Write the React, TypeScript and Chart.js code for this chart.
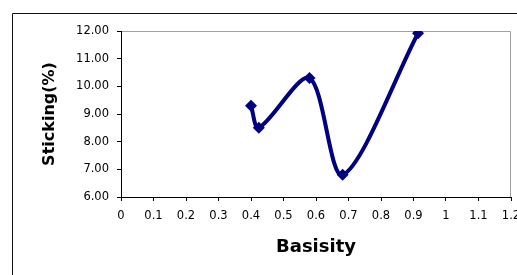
import React, { useEffect, useRef } from "react";
import { Chart, registerables } from "chart.js";

Chart.register(...registerables);

const basisity = [0.4, 0.424, 0.58, 0.682, 0.914];
const sticking = [9.3, 8.5, 10.3, 6.8, 11.92];
const xMin = 0;
const xMax = 1.2;
const xStep = 0.1;
const yMin = 6;
const yMax = 12;
const yStep = 1;
const xTitle = "Basisity";
const yTitle = "Sticking(%)";

const framePlugin = {
  id: "frame",
  beforeDraw(chart: any) {
    const { ctx, chartArea } = chart;
    const { left, top, right, bottom } = chartArea;
    ctx.save();
    ctx.fillStyle = "#ffffff";
    ctx.fillRect(0, 0, chart.width, chart.height);
    ctx.strokeStyle = "#111111";
    ctx.lineWidth = 1;
    ctx.beginPath();
    ctx.moveTo(12.5, chart.height);
    ctx.lineTo(12.5, 13.5);
    ctx.lineTo(chart.width, 13.5);
    ctx.stroke();
    ctx.strokeStyle = "#a0a0a0";
    ctx.beginPath();
    ctx.moveTo(left, top + 0.5);
    ctx.lineTo(right - 0.5, top + 0.5);
    ctx.lineTo(right - 0.5, bottom);
    ctx.stroke();
    ctx.restore();
  },
};

export default function App() {
  const ref = useRef<HTMLCanvasElement | null>(null);
  useEffect(() => {
    if (!ref.current) return;
    const tickFont = { family: "DejaVu Sans", size: 11.5 };
    const titleFont = { family: "DejaVu Sans", weight: "bold" as const };
    const chart = new Chart(ref.current, {
      type: "scatter",
      data: {
        datasets: [
          {
            data: basisity.map((x, i) => ({ x, y: sticking[i] })),
            showLine: true,
            borderColor: "#000080",
            backgroundColor: "#000080",
            borderWidth: 4,
            tension: 0.3,
            pointStyle: "rectRot",
            pointRadius: 6,
            pointHoverRadius: 6,
            pointBorderWidth: 0,
          },
        ],
      },
      options: {
        responsive: false,
        animation: false,
        devicePixelRatio: 1,
        layout: { padding: { top: 31, right: 4, left: 0, bottom: 0 } },
        plugins: { legend: { display: false }, tooltip: { enabled: false } },
        scales: {
          x: {
            type: "linear",
            min: xMin,
            max: xMax,
            ticks: {
              stepSize: xStep,
              autoSkip: false,
              maxRotation: 0,
              minRotation: 0,
              color: "#000",
              font: tickFont,
              padding: 8,
              callback: (v: any) => String(Number(Number(v).toFixed(1))),
            },
            grid: {
              display: true,
              drawOnChartArea: false,
              drawTicks: true,
              tickLength: 4,
              color: "#000",
            },
            border: { display: true, color: "#000", width: 1 },
            title: {
              display: true,
              text: xTitle,
              color: "#000",
              font: { ...titleFont, size: 18 },
              padding: { top: 0, bottom: 17 },
            },
            afterFit(s: any) {
              s.height = 78;
              s.paddingLeft = 0;
              s.paddingRight = 0;
            },
          },
          y: {
            min: yMin,
            max: yMax,
            ticks: {
              stepSize: yStep,
              color: "#000",
              font: tickFont,
              padding: 8,
              callback: (v: any) => Number(v).toFixed(2),
            },
            grid: {
              display: true,
              drawOnChartArea: false,
              drawTicks: true,
              tickLength: 4,
              color: "#000",
            },
            border: { display: true, color: "#000", width: 1 },
            title: {
              display: true,
              text: yTitle,
              color: "#000",
              font: { ...titleFont, size: 16 },
              padding: { top: 40, bottom: 0 },
            },
            afterFit(s: any) {
              s.width = 121;
              s.paddingTop = 0;
              s.paddingBottom = 0;
            },
          },
        },
      },
      plugins: [framePlugin],
    });
    return () => chart.destroy();
  }, []);
  return (
    <div style={{ position: "fixed", left: 0, top: 0, width: 517, height: 275, background: "#fff" }}>
      <canvas ref={ref} width={517} height={275} style={{ display: "block" }} />
    </div>
  );
}
